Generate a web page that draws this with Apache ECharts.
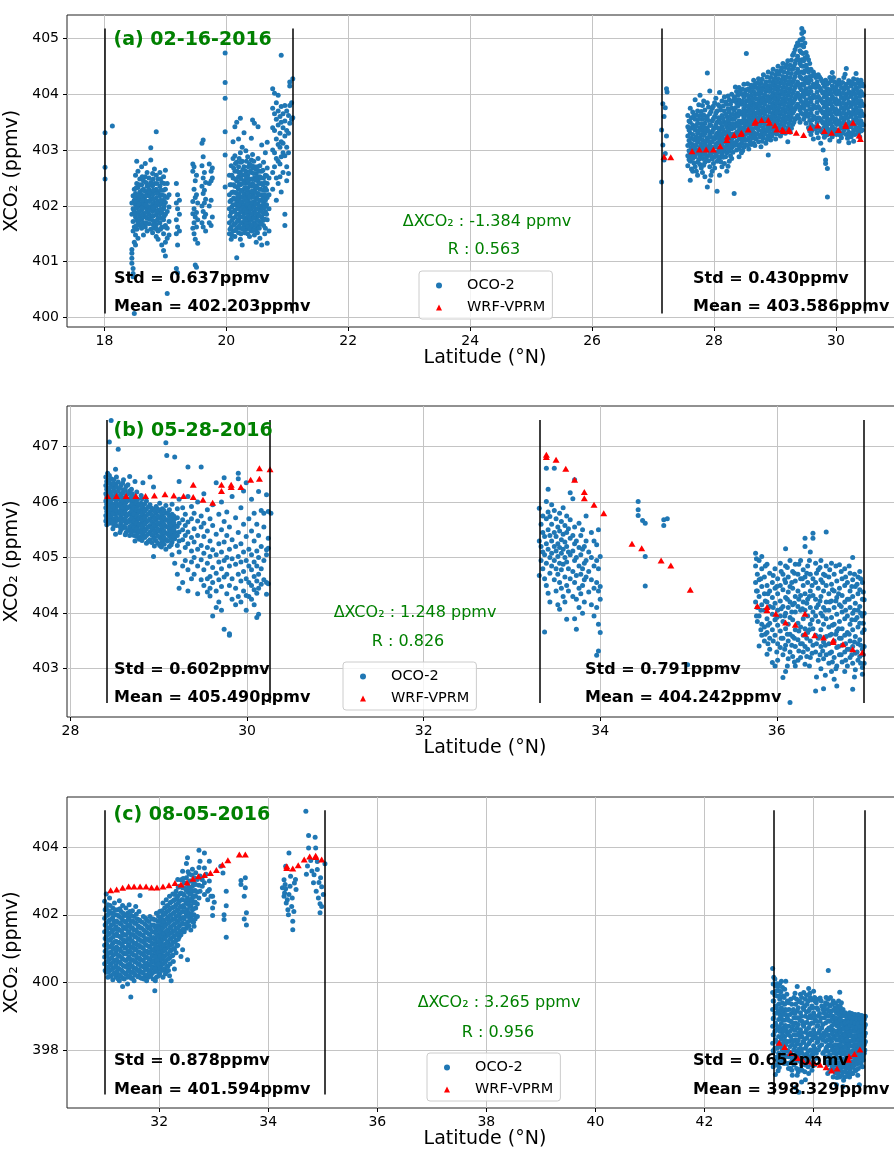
<!DOCTYPE html>
<html>
<head>
<meta charset="utf-8">
<title>XCO2 OCO-2 vs WRF-VPRM</title>
<script src="https://cdn.jsdelivr.net/npm/echarts@6/dist/echarts.min.js"></script>
<style>
  html, body { margin: 0; padding: 0; background: #fff; }
  #chart { width: 894px; height: 1154px; }
</style>
</head>
<body>
<div id="chart"></div>
<script>
"use strict";

// OCO-2 soundings, one column per latitude: [lat, xco2, xco2, ...]
const oco2A = [
  [18.01, 403.31, 402.69, 402.48], [18.13, 403.43],
  [18.45, 402.05, 401.85, 401.22, 401.15, 401.06, 400.97],
  [18.47, 402.18, 401.95, 401.72, 401.55, 400.88, 400.79, 400.73],
  [18.49, 402.30, 402.10, 401.90, 401.62, 401.35, 400.07],
  [18.51, 402.55, 402.22, 402.02, 401.80, 401.48, 401.30],
  [18.53, 402.80, 402.40, 402.15, 401.96, 401.75, 401.58],
  [18.55, 402.62, 402.33, 402.08, 401.88, 401.70, 401.42],
  [18.58, 402.48, 402.25, 402.12, 401.99, 401.82, 401.65],
  [18.61, 402.70, 402.38, 402.20, 402.02, 401.92, 401.76, 401.60],
  [18.64, 402.45, 402.30, 402.16, 402.05, 401.86, 401.70, 401.48],
  [18.67, 402.76, 402.52, 402.26, 402.10, 401.97, 401.80, 401.62],
  [18.70, 402.60, 402.35, 402.22, 402.08, 401.94, 401.78, 401.55],
  [18.73, 402.50, 402.30, 402.18, 401.99, 401.85, 401.68],
  [18.76, 403.04, 402.82, 402.42, 402.25, 402.12, 401.96, 401.82, 401.58],
  [18.79, 402.58, 402.36, 402.20, 402.03, 401.90, 401.74, 401.52],
  [18.82, 402.66, 402.40, 402.26, 402.06, 401.93, 401.72, 401.60],
  [18.85, 403.33, 402.55, 402.30, 402.14, 402.00, 401.84, 401.66, 401.45],
  [18.88, 402.48, 402.24, 402.08, 401.92, 401.78, 401.55, 401.40],
  [18.91, 402.60, 402.35, 402.18, 402.02, 401.86, 401.70],
  [18.94, 402.42, 402.20, 402.05, 401.88, 401.62, 401.30],
  [18.97, 402.52, 402.28, 402.10, 401.95, 401.75, 401.50, 401.20],
  [19.00, 402.64, 402.30, 402.06, 401.85, 401.65, 401.35, 401.10],
  [19.03, 402.40, 402.15, 401.90, 401.60, 401.42, 400.43],
  [19.06, 402.20, 401.98, 401.72, 401.48],
  [19.18, 402.40, 402.05, 401.75, 401.50, 400.88],
  [19.20, 402.20, 401.95, 401.62, 401.30, 400.80],
  [19.23, 402.10, 401.85, 401.55],
  [19.45, 402.75, 402.62, 402.08, 401.86, 401.60],
  [19.47, 402.70, 402.30, 401.95, 401.70, 401.50],
  [19.49, 402.45, 402.15, 401.80, 401.40, 400.94],
  [19.51, 402.55, 402.20, 401.88, 401.62, 400.90],
  [19.53, 402.05, 401.75, 401.33],
  [19.60, 403.12, 402.72, 402.35, 402.00, 401.70],
  [19.62, 403.18, 402.88, 402.50, 402.22, 401.90, 401.62],
  [19.64, 402.60, 402.28, 402.05, 401.80],
  [19.66, 402.42, 402.12, 401.85, 401.55],
  [19.72, 402.75, 402.40, 402.00, 401.70],
  [19.75, 402.62, 402.45, 402.10, 401.65],
  [19.77, 402.68, 402.50, 401.80],
  [19.98, 404.74, 404.21, 403.93, 403.33, 402.91, 402.34],
  [20.05, 402.55, 402.20, 401.95, 401.70, 401.50],
  [20.08, 402.72, 402.38, 402.10, 401.88, 401.62, 401.40],
  [20.11, 403.15, 402.85, 402.50, 402.25, 402.02, 401.78, 401.55],
  [20.14, 403.42, 402.90, 402.62, 402.35, 402.12, 401.92, 401.68, 401.45],
  [20.17, 403.50, 402.78, 402.45, 402.22, 402.05, 401.85, 401.60, 401.07],
  [20.20, 403.20, 402.70, 402.52, 402.30, 402.10, 401.96, 401.75, 401.52],
  [20.23, 403.57, 402.95, 402.60, 402.38, 402.16, 402.00, 401.80, 401.60, 401.40],
  [20.26, 403.05, 402.80, 402.55, 402.28, 402.05, 401.90, 401.70, 401.30],
  [20.29, 403.31, 402.70, 402.45, 402.22, 402.02, 401.86, 401.65],
  [20.32, 402.99, 402.62, 402.40, 402.18, 401.98, 401.78, 401.58],
  [20.35, 402.88, 402.55, 402.32, 402.12, 401.92, 401.72, 401.50],
  [20.38, 402.75, 402.48, 402.25, 402.06, 401.88, 401.68, 401.45],
  [20.41, 403.21, 402.82, 402.60, 402.35, 402.15, 401.95, 401.75, 401.55],
  [20.43, 403.54, 402.92, 402.68, 402.40, 402.20, 402.00, 401.80, 401.62],
  [20.46, 403.48, 402.70, 402.50, 402.28, 402.08, 401.90, 401.70, 401.48],
  [20.49, 402.58, 402.36, 402.15, 401.95, 401.78, 401.58, 401.35],
  [20.52, 403.42, 402.85, 402.45, 402.22, 402.04, 401.85, 401.65],
  [20.55, 402.72, 402.52, 402.30, 402.10, 401.92, 401.72, 401.42],
  [20.58, 403.09, 402.62, 402.40, 402.20, 402.00, 401.80, 401.30],
  [20.61, 402.78, 402.50, 402.28, 402.05, 401.86, 401.65],
  [20.64, 402.95, 402.55, 402.32, 402.10, 401.90, 401.60],
  [20.67, 403.14, 402.68, 402.40, 402.15, 401.75, 401.33],
  [20.70, 402.50, 402.20, 401.95, 401.55],
  [20.76, 404.10, 403.75, 403.40, 403.00, 402.60, 402.30],
  [20.79, 404.02, 403.65, 403.35, 402.95, 402.70],
  [20.82, 403.85, 403.55, 403.20, 402.85, 402.50, 402.10],
  [20.85, 403.98, 403.70, 403.45, 403.10, 402.80, 402.40],
  [20.88, 403.60, 403.30, 403.05, 402.75, 402.52],
  [20.90, 404.70, 403.78, 403.50, 403.15, 402.88, 402.25],
  [20.93, 403.65, 403.40, 403.12, 402.95, 402.60],
  [20.96, 403.80, 403.52, 403.25, 402.90, 401.85, 401.65],
  [20.99, 403.70, 403.35, 403.05, 402.70, 402.45],
  [21.02, 403.62, 403.30, 402.95, 402.58],
  [21.04, 404.22, 404.15, 403.80, 403.48],
  [21.07, 403.85, 403.55],
  [21.09, 404.28, 403.58],
  [27.14, 403.36, 402.43], [27.16, 403.83, 403.09], [27.18, 403.60, 402.82],
  [27.20, 403.76, 402.94], [27.22, 404.10, 403.25], [27.23, 404.04],
  [27.57, 403.62, 403.42, 403.25, 403.08, 402.90, 402.72],
  [27.61, 403.75, 403.50, 403.30, 403.12, 402.95, 402.80, 402.46],
  [27.65, 403.68, 403.45, 403.28, 403.10, 402.98, 402.85, 402.62],
  [27.69, 403.90, 403.55, 403.36, 403.18, 403.02, 402.88, 402.70],
  [27.73, 403.70, 403.48, 403.30, 403.15, 403.00, 402.78, 402.55],
  [27.77, 403.98, 403.62, 403.40, 403.22, 403.05, 402.90, 402.74],
  [27.81, 403.80, 403.55, 403.35, 403.18, 403.02, 402.85, 402.60],
  [27.85, 403.72, 403.48, 403.30, 403.12, 402.96, 402.78, 402.52],
  [27.89, 404.38, 403.85, 403.60, 403.40, 403.22, 403.06, 402.90, 402.34],
  [27.93, 404.06, 403.65, 403.45, 403.28, 403.10, 402.95, 402.70, 402.45],
  [27.97, 403.75, 403.52, 403.32, 403.15, 403.00, 402.84, 402.62],
  [28.01, 403.85, 403.60, 403.40, 403.20, 403.05, 402.88, 402.68],
  [28.05, 403.70, 403.50, 403.30, 403.12, 402.96, 402.80, 402.26],
  [28.09, 404.03, 403.78, 403.55, 403.35, 403.18, 403.02, 402.86, 402.55],
  [28.13, 403.88, 403.62, 403.42, 403.25, 403.08, 402.92, 402.70],
  [28.17, 403.95, 403.70, 403.50, 403.32, 403.15, 402.98, 402.76],
  [28.21, 403.82, 403.60, 403.42, 403.25, 403.10, 402.95, 402.62],
  [28.25, 403.90, 403.68, 403.48, 403.30, 403.14, 402.98, 402.80],
  [28.29, 404.00, 403.75, 403.55, 403.38, 403.20, 403.04, 402.85],
  [28.33, 403.95, 403.72, 403.55, 403.40, 403.24, 403.08, 402.22],
  [28.37, 404.05, 403.85, 403.65, 403.48, 403.32, 403.16, 403.00],
  [28.41, 404.12, 403.90, 403.70, 403.52, 403.36, 403.20, 403.02, 402.88],
  [28.45, 404.00, 403.82, 403.64, 403.48, 403.30, 403.12, 402.95],
  [28.49, 404.18, 403.95, 403.75, 403.58, 403.40, 403.22, 403.05],
  [28.53, 404.73, 404.08, 403.88, 403.70, 403.52, 403.36, 403.18],
  [28.57, 404.10, 403.92, 403.74, 403.56, 403.40, 403.22, 403.02],
  [28.61, 404.16, 403.98, 403.80, 403.62, 403.46, 403.28, 403.10],
  [28.65, 404.25, 404.05, 403.85, 403.68, 403.50, 403.32, 403.12],
  [28.69, 404.12, 403.92, 403.76, 403.58, 403.40, 403.20],
  [28.73, 404.28, 404.08, 403.90, 403.72, 403.55, 403.36, 403.15],
  [28.77, 404.20, 404.02, 403.84, 403.66, 403.48, 403.28, 403.06],
  [28.81, 404.35, 404.12, 403.94, 403.76, 403.58, 403.40, 403.22],
  [28.85, 404.22, 404.05, 403.88, 403.70, 403.52, 403.34, 403.12],
  [28.89, 404.40, 404.15, 403.96, 403.78, 403.60, 403.42, 403.25, 402.91],
  [28.93, 404.30, 404.10, 403.92, 403.75, 403.56, 403.38, 403.18],
  [28.97, 404.45, 404.22, 404.02, 403.84, 403.66, 403.48, 403.30],
  [29.01, 404.35, 404.15, 403.96, 403.78, 403.60, 403.42, 403.20],
  [29.05, 404.50, 404.28, 404.08, 403.90, 403.72, 403.54, 403.36],
  [29.09, 404.42, 404.20, 404.00, 403.82, 403.64, 403.46, 403.25],
  [29.13, 404.55, 404.32, 404.12, 403.92, 403.74, 403.56, 403.38],
  [29.17, 404.48, 404.25, 404.05, 403.86, 403.68, 403.50, 403.30],
  [29.21, 404.60, 404.38, 404.18, 403.98, 403.78, 403.60, 403.40, 403.15],
  [29.25, 404.52, 404.30, 404.10, 403.90, 403.72, 403.54, 403.32],
  [29.29, 404.70, 404.45, 404.22, 404.02, 403.84, 403.66, 403.46],
  [29.33, 404.80, 404.55, 404.32, 404.12, 403.92, 403.74, 403.55],
  [29.37, 404.92, 404.68, 404.45, 404.22, 404.02, 403.82, 403.62],
  [29.41, 404.97, 404.78, 404.55, 404.32, 404.12, 403.92, 403.72, 403.50],
  [29.44, 405.18, 405.09, 404.88, 404.62, 404.40, 404.18, 403.98, 403.78],
  [29.47, 405.12, 404.85, 404.60, 404.38, 404.16, 403.96, 403.75, 403.55],
  [29.51, 404.75, 404.52, 404.30, 404.10, 403.90, 403.70, 403.48],
  [29.55, 404.62, 404.40, 404.20, 404.00, 403.80, 403.60, 403.40],
  [29.59, 404.45, 404.25, 404.05, 403.86, 403.66, 403.46, 403.28],
  [29.63, 404.40, 404.18, 403.98, 403.80, 403.60, 403.42, 403.20],
  [29.67, 404.30, 404.12, 403.94, 403.76, 403.56, 403.38],
  [29.71, 404.35, 404.15, 403.96, 403.78, 403.58, 403.40, 403.22],
  [29.75, 404.28, 404.08, 403.90, 403.72, 403.54, 403.35, 403.12],
  [29.79, 404.20, 404.02, 403.84, 403.66, 403.48, 403.30, 403.00],
  [29.83, 404.25, 404.05, 403.86, 403.68, 403.50, 403.32, 402.82, 402.76],
  [29.86, 404.10, 403.92, 403.74, 403.56, 403.38, 402.67, 402.16],
  [29.90, 404.30, 404.08, 403.90, 403.72, 403.54, 403.36, 403.18],
  [29.94, 404.39, 404.15, 403.96, 403.78, 403.60, 403.42, 403.24],
  [29.98, 404.22, 404.04, 403.86, 403.68, 403.50, 403.32],
  [30.01, 404.15, 404.00, 403.82, 403.64, 403.46, 403.28],
  [30.05, 404.25, 404.06, 403.88, 403.70, 403.52, 403.34, 403.16],
  [30.09, 404.12, 403.94, 403.76, 403.58, 403.40, 403.22],
  [30.13, 404.30, 404.08, 403.90, 403.72, 403.54, 403.36],
  [30.17, 404.46, 404.18, 404.00, 403.82, 403.64, 403.46, 403.28],
  [30.21, 404.24, 404.05, 403.86, 403.68, 403.50, 403.32, 403.13],
  [30.25, 404.15, 403.96, 403.78, 403.60, 403.42, 403.24],
  [30.29, 404.28, 404.08, 403.90, 403.72, 403.54, 403.36, 403.16],
  [30.33, 404.37, 404.12, 403.94, 403.76, 403.58, 403.40],
  [30.37, 404.20, 404.02, 403.84, 403.66, 403.48, 403.30],
  [30.41, 404.25, 404.05, 403.88, 403.70, 403.52, 403.34],
  [30.45, 404.15, 403.98, 403.80, 403.62, 403.45]
];

// extra soundings (a)
const oco2AFill = [
  [18.52, 402.32, 402.08, 401.86, 401.64], [18.57, 402.38, 402.18, 402.04, 401.90, 401.74],
  [18.62, 402.52, 402.28, 402.10, 401.96, 401.84, 401.68], [18.68, 402.42, 402.18, 402.02, 401.88, 401.70],
  [18.74, 402.38, 402.24, 402.08, 401.92, 401.76], [18.80, 402.48, 402.28, 402.12, 401.96, 401.82, 401.66],
  [18.86, 402.40, 402.22, 402.06, 401.90, 401.74, 401.58], [18.92, 402.48, 402.28, 402.10, 401.94, 401.78, 401.58],
  [18.98, 402.40, 402.18, 402.00, 401.82, 401.62],
  [20.06, 402.38, 402.08, 401.82, 401.58], [20.09, 402.55, 402.24, 401.98, 401.74, 401.48],
  [20.12, 402.68, 402.38, 402.14, 401.90, 401.66], [20.15, 402.76, 402.48, 402.24, 402.02, 401.80, 401.56],
  [20.18, 402.62, 402.34, 402.14, 401.95, 401.72], [20.21, 402.85, 402.60, 402.40, 402.20, 402.02, 401.86, 401.64],
  [20.24, 402.78, 402.48, 402.26, 402.08, 401.90, 401.70, 401.50], [20.27, 402.65, 402.40, 402.16, 401.96, 401.80, 401.58],
  [20.30, 402.56, 402.32, 402.12, 401.92, 401.74, 401.52], [20.33, 402.80, 402.50, 402.28, 402.08, 401.88, 401.68],
  [20.36, 402.70, 402.44, 402.22, 402.02, 401.82, 401.62], [20.39, 402.62, 402.38, 402.16, 401.98, 401.78, 401.58],
  [20.42, 402.72, 402.48, 402.26, 402.06, 401.86, 401.66], [20.45, 402.80, 402.58, 402.36, 402.16, 401.98, 401.78, 401.56],
  [20.48, 402.66, 402.46, 402.24, 402.04, 401.86, 401.66], [20.51, 402.70, 402.52, 402.32, 402.12, 401.94, 401.74, 401.52],
  [20.54, 402.62, 402.40, 402.20, 402.00, 401.82, 401.60], [20.57, 402.50, 402.30, 402.10, 401.90, 401.68],
  [20.60, 402.64, 402.38, 402.16, 401.96, 401.74], [20.63, 402.42, 402.20, 401.98, 401.76, 401.50],
  [20.66, 402.54, 402.28, 402.02, 401.85],
  [27.59, 403.52, 403.36, 403.17, 402.99, 402.83], [27.63, 403.58, 403.39, 403.21, 403.04, 402.88, 402.66],
  [27.67, 403.62, 403.40, 403.19, 403.06, 402.92, 402.77], [27.71, 403.63, 403.43, 403.24, 403.09, 402.94, 402.62],
  [27.75, 403.81, 403.55, 403.35, 403.19, 402.97, 402.83], [27.79, 403.69, 403.47, 403.28, 403.11, 402.95, 402.68],
  [27.83, 403.88, 403.63, 403.42, 403.26, 403.08, 402.92, 402.73], [27.87, 403.56, 403.37, 403.17, 403.02, 402.86],
  [27.91, 403.77, 403.53, 403.34, 403.16, 403.01, 402.81], [27.95, 403.69, 403.44, 403.23, 403.06, 402.90, 402.55],
  [27.99, 403.79, 403.56, 403.37, 403.22, 402.97, 402.76], [28.03, 403.93, 403.66, 403.45, 403.26, 403.10, 402.93],
  [28.07, 403.81, 403.58, 403.39, 403.23, 403.04, 402.88], [28.11, 403.72, 403.48, 403.29, 403.13, 402.97, 402.79],
  [28.15, 403.79, 403.56, 403.37, 403.20, 403.03, 402.87], [28.19, 403.86, 403.64, 403.46, 403.29, 403.05, 402.88],
  [28.23, 403.97, 403.74, 403.54, 403.36, 403.19, 403.03, 402.71], [28.27, 403.82, 403.61, 403.42, 403.24, 403.07, 402.90],
  [28.31, 403.88, 403.64, 403.47, 403.29, 403.13, 402.96], [28.35, 404.13, 403.91, 403.76, 403.59, 403.43, 403.27, 403.11],
  [28.39, 403.98, 403.79, 403.61, 403.44, 403.28, 403.09], [28.43, 404.06, 403.86, 403.67, 403.41, 403.24, 403.07],
  [28.47, 404.09, 403.88, 403.69, 403.52, 403.35, 403.17, 402.99], [28.51, 404.02, 403.81, 403.63, 403.46, 403.28, 403.10],
  [28.55, 404.19, 403.98, 403.79, 403.62, 403.45, 403.30, 403.08], [28.59, 404.06, 403.86, 403.68, 403.51, 403.33, 403.15],
  [28.63, 404.12, 403.92, 403.73, 403.56, 403.38, 403.21], [28.67, 404.18, 403.99, 403.80, 403.63, 403.46, 403.26, 403.08],
  [28.71, 404.20, 404.01, 403.83, 403.66, 403.48, 403.29], [28.75, 404.14, 403.95, 403.78, 403.61, 403.43, 403.24],
  [28.79, 404.27, 404.08, 403.89, 403.71, 403.53, 403.34, 403.16], [28.83, 404.16, 403.99, 403.82, 403.64, 403.46, 403.29],
  [28.87, 404.31, 404.09, 403.91, 403.73, 403.56, 403.37, 403.19], [28.91, 404.23, 404.05, 403.86, 403.68, 403.50, 403.32],
  [28.95, 404.37, 404.16, 403.97, 403.79, 403.61, 403.43, 403.25], [28.99, 404.28, 404.09, 403.91, 403.72, 403.54, 403.36],
  [29.03, 404.41, 404.21, 404.02, 403.85, 403.67, 403.49, 403.29], [29.07, 404.36, 404.14, 403.95, 403.77, 403.59, 403.41],
  [29.11, 404.47, 404.26, 404.06, 403.87, 403.69, 403.51, 403.31], [29.15, 404.40, 404.19, 403.99, 403.81, 403.62, 403.44],
  [29.19, 404.53, 404.31, 404.11, 403.92, 403.73, 403.55, 403.35], [29.23, 404.45, 404.23, 404.04, 403.84, 403.66, 403.47],
  [29.27, 404.61, 404.37, 404.16, 403.96, 403.77, 403.59, 403.39], [29.31, 404.74, 404.50, 404.27, 404.07, 403.88, 403.70, 403.50],
  [29.35, 404.86, 404.61, 404.38, 404.17, 403.97, 403.78, 403.58], [29.39, 404.88, 404.62, 404.39, 404.17, 403.96, 403.77, 403.57],
  [29.43, 404.97, 404.75, 404.51, 404.29, 404.08, 403.87, 403.66], [29.46, 405.00, 404.73, 404.50, 404.27, 404.06, 403.85, 403.64],
  [29.49, 404.92, 404.65, 404.42, 404.20, 404.00, 403.80, 403.60], [29.53, 404.68, 404.46, 404.25, 404.05, 403.85, 403.65],
  [29.57, 404.55, 404.32, 404.12, 403.93, 403.73, 403.53, 403.34], [29.61, 404.33, 404.13, 403.93, 403.73, 403.54, 403.35],
  [29.65, 404.35, 404.16, 403.96, 403.78, 403.59, 403.41], [29.69, 404.22, 404.04, 403.86, 403.67, 403.49, 403.31],
  [29.73, 404.31, 404.12, 403.93, 403.75, 403.57, 403.39], [29.77, 404.24, 404.05, 403.87, 403.69, 403.51, 403.33],
  [29.81, 404.14, 403.95, 403.77, 403.59, 403.41, 403.23], [29.85, 404.18, 403.99, 403.81, 403.63, 403.45, 403.27],
  [29.88, 404.20, 404.01, 403.83, 403.65, 403.47, 403.29], [29.92, 404.24, 404.02, 403.84, 403.66, 403.48, 403.30],
  [29.96, 404.30, 404.10, 403.92, 403.74, 403.56, 403.38], [30.00, 404.09, 403.91, 403.73, 403.55, 403.37],
  [30.03, 404.20, 404.03, 403.85, 403.67, 403.49, 403.31], [30.07, 404.18, 404.00, 403.82, 403.64, 403.46, 403.27],
  [30.11, 404.21, 404.02, 403.84, 403.66, 403.48, 403.30], [30.15, 404.36, 404.13, 403.95, 403.77, 403.59, 403.41],
  [30.19, 404.11, 403.93, 403.75, 403.57, 403.39, 403.21], [30.23, 404.20, 404.01, 403.83, 403.65, 403.47, 403.29],
  [30.27, 404.22, 404.03, 403.85, 403.67, 403.49, 403.30], [30.31, 404.18, 404.00, 403.82, 403.64, 403.46, 403.28],
  [30.35, 404.26, 404.07, 403.89, 403.71, 403.53, 403.35], [30.39, 404.14, 403.96, 403.78, 403.60, 403.42, 403.24],
  [30.43, 404.19, 404.01, 403.83, 403.65, 403.47, 403.36]
];

const oco2B = [
  [28.40, 406.45, 406.30, 406.15, 406.02, 405.90, 405.76, 405.66],
  [28.42, 406.52, 406.38, 406.22, 406.08, 405.95, 405.82, 405.70],
  [28.44, 407.08, 406.48, 406.35, 406.20, 406.05, 405.92, 405.80, 405.62],
  [28.46, 407.47, 406.42, 406.28, 406.12, 405.98, 405.86, 405.72],
  [28.49, 406.40, 406.25, 406.10, 405.96, 405.84, 405.70, 405.58],
  [28.51, 406.59, 406.32, 406.18, 406.04, 405.90, 405.78, 405.65, 405.42],
  [28.54, 406.95, 406.36, 406.20, 406.06, 405.94, 405.80, 405.68],
  [28.57, 406.30, 406.14, 406.00, 405.88, 405.76, 405.62, 405.50],
  [28.60, 406.40, 406.22, 406.08, 405.96, 405.84, 405.70, 405.56],
  [28.63, 406.28, 406.12, 406.00, 405.88, 405.75, 405.62, 405.45],
  [28.67, 406.46, 406.20, 406.05, 405.92, 405.80, 405.68, 405.55, 405.40],
  [28.70, 406.15, 406.00, 405.88, 405.76, 405.64, 405.50],
  [28.73, 406.37, 406.10, 405.96, 405.84, 405.72, 405.60, 405.48, 405.30],
  [28.76, 406.05, 405.92, 405.80, 405.68, 405.56, 405.44],
  [28.80, 406.12, 405.98, 405.86, 405.74, 405.62, 405.50, 405.38],
  [28.82, 406.35, 405.90, 405.78, 405.66, 405.54, 405.42],
  [28.86, 406.02, 405.88, 405.76, 405.64, 405.52, 405.40, 405.26],
  [28.90, 406.45, 405.95, 405.82, 405.70, 405.58, 405.46, 405.32],
  [28.94, 406.27, 405.86, 405.74, 405.62, 405.50, 405.38, 405.02],
  [28.97, 405.92, 405.80, 405.68, 405.56, 405.44, 405.30],
  [29.01, 405.98, 405.84, 405.72, 405.60, 405.48, 405.36, 405.22],
  [29.04, 405.88, 405.76, 405.64, 405.52, 405.40, 405.28],
  [29.08, 407.07, 405.94, 405.80, 405.68, 405.56, 405.44, 405.32, 405.15],
  [29.09, 406.84],
  [29.12, 405.86, 405.74, 405.62, 405.50, 405.38, 405.20],
  [29.15, 405.96, 405.78, 405.66, 405.54, 405.42, 405.28, 405.05],
  [29.18, 406.81, 405.70, 405.58, 405.46, 405.34, 404.90],
  [29.21, 405.88, 405.72, 405.56, 405.40, 405.22, 404.70],
  [29.23, 406.37, 406.05, 405.62, 405.46, 405.30, 405.10, 404.45],
  [29.27, 405.90, 405.68, 405.50, 405.32, 404.85, 404.55],
  [29.30, 405.78, 405.58, 405.40, 405.18, 404.95],
  [29.33, 406.63, 406.10, 405.64, 405.46, 405.25, 404.78, 404.40],
  [29.37, 405.92, 405.70, 405.36, 405.12, 404.92, 404.62],
  [29.40, 405.80, 405.52, 405.28, 405.00, 404.70],
  [29.44, 406.00, 405.66, 405.40, 405.15, 404.85, 404.35],
  [29.48, 406.63, 405.75, 405.55, 405.22, 404.96, 404.60],
  [29.51, 406.15, 405.62, 405.38, 405.08, 404.78, 404.50],
  [29.55, 405.86, 405.48, 405.18, 404.90, 404.62, 404.38],
  [29.58, 405.70, 405.30, 405.02, 404.66, 404.45, 404.31],
  [29.61, 405.95, 405.58, 405.14, 404.82, 404.55, 403.95],
  [29.65, 406.35, 405.42, 405.05, 404.72, 404.40, 404.10],
  [29.68, 405.78, 405.25, 404.92, 404.60, 404.20],
  [29.71, 406.00, 405.50, 405.10, 404.80, 404.48, 404.05],
  [29.74, 406.44, 405.65, 405.28, 404.95, 404.65, 403.71],
  [29.77, 405.82, 405.40, 405.00, 404.70, 404.35],
  [29.80, 405.55, 405.15, 404.85, 404.50, 403.63, 403.60],
  [29.83, 406.10, 405.32, 404.98, 404.62, 404.25],
  [29.87, 405.72, 405.20, 404.88, 404.45, 404.15],
  [29.90, 406.52, 406.42, 405.45, 405.02, 404.70, 404.30],
  [29.93, 405.90, 405.25, 404.92, 404.58, 404.20],
  [29.96, 406.20, 405.60, 405.10, 404.75, 404.40],
  [29.99, 406.35, 405.38, 404.95, 404.62, 404.32, 404.05],
  [30.02, 405.70, 405.15, 404.85, 404.55, 404.30],
  [30.05, 406.05, 405.48, 405.05, 404.78, 404.50, 404.25],
  [30.08, 405.80, 405.30, 404.92, 404.66, 404.42, 404.15],
  [30.11, 405.60, 405.12, 404.85, 404.58, 404.36, 403.92],
  [30.13, 406.19, 405.40, 405.00, 404.70, 404.45, 403.98],
  [30.16, 405.85, 405.20, 404.80, 404.52],
  [30.19, 405.80, 405.55, 404.95, 404.60],
  [30.22, 406.13, 405.14, 405.05, 404.55, 404.34],
  [30.24, 405.83, 405.35, 405.17, 404.53],
  [30.27, 405.80],
  [33.31, 405.89, 405.30, 404.68], [33.33, 405.60, 405.20, 404.95],
  [33.35, 405.75, 405.45, 405.10, 404.80], [33.37, 405.38, 405.05, 404.62, 403.66],
  [33.39, 406.61, 406.01, 405.70, 405.25, 404.90, 404.50],
  [33.41, 406.23, 405.82, 405.50, 405.15, 404.36],
  [33.43, 405.74, 405.40, 405.00, 404.72, 404.20],
  [33.45, 405.95, 405.60, 405.30, 405.08, 404.85],
  [33.48, 406.61, 405.85, 405.45, 405.20, 404.95, 404.60],
  [33.50, 405.70, 405.38, 405.12, 404.80, 404.40],
  [33.52, 405.55, 405.25, 405.02, 404.70, 404.15],
  [33.54, 405.80, 405.48, 405.18, 404.90, 404.55, 404.07],
  [33.56, 405.65, 405.32, 405.08, 404.78, 404.45],
  [33.58, 405.90, 405.42, 405.15, 404.88, 404.30],
  [33.60, 405.58, 405.28, 405.00, 404.65, 404.20],
  [33.62, 405.75, 405.45, 405.20, 404.92, 404.50, 403.89],
  [33.64, 405.52, 405.10, 404.80, 404.40],
  [33.66, 406.17, 405.68, 405.35, 405.05, 404.62],
  [33.69, 406.06, 405.40, 405.12, 404.75, 404.30],
  [33.71, 406.40, 405.55, 405.25, 404.95, 404.55, 403.90],
  [33.73, 405.30, 405.00, 404.68, 404.25, 403.71],
  [33.76, 405.62, 405.18, 404.85, 404.45, 404.10],
  [33.78, 405.40, 405.05, 404.70, 404.35],
  [33.80, 405.50, 405.15, 404.80, 404.50, 404.00],
  [33.82, 405.20, 404.90, 404.60, 404.20],
  [33.84, 405.75, 405.30, 404.95, 404.65],
  [33.87, 405.10, 404.75, 404.38],
  [33.90, 405.45, 405.00, 404.60, 404.15],
  [33.93, 405.30, 404.85, 404.45, 403.95],
  [33.96, 405.23, 404.95, 404.55, 404.10, 403.24],
  [33.98, 405.50, 404.80, 404.40, 403.80, 403.32],
  [34.00, 405.02, 404.48, 404.25, 403.65],
  [34.43, 406.01, 405.86, 405.76], [34.48, 405.67], [34.51, 405.62, 405.02, 404.49],
  [34.72, 405.58, 405.68], [34.76, 405.70], [34.99, 403.07],
  [35.76, 405.08, 404.85, 404.55, 404.20],
  [35.78, 404.70, 404.40, 404.10, 403.85],
  [35.80, 404.95, 404.60, 404.30, 403.95, 403.41],
  [35.83, 405.02, 404.80, 404.48, 404.15, 403.80, 403.60],
  [35.86, 404.65, 404.35, 404.05, 403.75, 403.50],
  [35.89, 404.88, 404.50, 404.20, 403.90, 403.65, 403.26],
  [35.92, 404.72, 404.40, 404.12, 403.82, 403.55, 403.35],
  [35.95, 404.55, 404.28, 403.98, 403.70, 403.11],
  [35.98, 404.80, 404.45, 404.18, 403.88, 403.60, 403.05],
  [36.01, 404.62, 404.35, 404.05, 403.78, 403.45, 403.15],
  [36.04, 404.90, 404.50, 404.22, 403.95, 403.68, 403.38],
  [36.07, 404.70, 404.42, 404.12, 403.85, 403.55, 403.25, 402.84],
  [36.10, 405.16, 404.85, 404.55, 404.28, 404.00, 403.72, 403.42, 402.95],
  [36.13, 404.65, 404.38, 404.10, 403.80, 403.50, 403.18],
  [36.15, 404.95, 404.48, 404.20, 403.92, 403.62, 403.30, 402.39],
  [36.18, 404.75, 404.45, 404.15, 403.88, 403.58, 403.22],
  [36.21, 404.88, 404.58, 404.30, 404.02, 403.70, 403.40, 403.05],
  [36.24, 404.70, 404.40, 404.12, 403.82, 403.52, 403.15],
  [36.27, 404.95, 404.62, 404.32, 404.05, 403.75, 403.45, 403.20],
  [36.30, 404.78, 404.50, 404.20, 403.90, 403.60, 403.30],
  [36.32, 405.35, 405.20, 404.65, 404.35, 404.05, 403.72, 403.40, 403.08],
  [36.35, 404.85, 404.55, 404.25, 403.95, 403.65, 403.35],
  [36.38, 405.10, 404.70, 404.40, 404.10, 403.80, 403.50, 403.20],
  [36.41, 405.44, 405.35, 404.62, 404.32, 404.02, 403.72, 403.42],
  [36.44, 404.90, 404.55, 404.25, 403.95, 403.60, 403.30, 402.60],
  [36.47, 404.78, 404.45, 404.15, 403.85, 403.55, 403.15],
  [36.50, 404.95, 404.60, 404.30, 404.00, 403.70, 403.40, 403.00],
  [36.53, 404.70, 404.40, 404.10, 403.80, 403.48, 403.18, 402.64],
  [36.56, 405.46, 404.85, 404.50, 404.20, 403.90, 403.58, 403.25],
  [36.59, 404.65, 404.35, 404.05, 403.75, 403.45, 403.10],
  [36.62, 404.90, 404.52, 404.22, 403.92, 403.62, 403.30, 402.95],
  [36.65, 404.70, 404.40, 404.10, 403.80, 403.50, 403.20, 402.81],
  [36.68, 404.58, 404.28, 403.98, 403.68, 403.38, 403.05, 402.69],
  [36.71, 404.87, 404.45, 404.15, 403.85, 403.55, 403.25],
  [36.74, 404.62, 404.32, 404.02, 403.72, 403.42, 403.12],
  [36.77, 404.80, 404.50, 404.20, 403.90, 403.60, 403.30, 402.95],
  [36.80, 404.55, 404.25, 403.95, 403.65, 403.35, 403.05],
  [36.83, 404.72, 404.40, 404.10, 403.80, 403.50, 403.20],
  [36.86, 405.00, 404.60, 404.30, 404.00, 403.70, 403.40, 403.10, 402.63],
  [36.89, 404.48, 404.18, 403.88, 403.58, 403.28, 402.98],
  [36.92, 404.65, 404.35, 404.05, 403.75, 403.45, 403.15],
  [36.94, 404.75, 404.42, 404.12, 403.82, 403.52, 403.22],
  [36.97, 404.55, 404.25, 403.95, 403.65, 403.35, 403.02, 402.90],
  [36.99, 404.24, 404.00, 403.70, 403.40, 403.10]
];

// extra soundings (b)
const oco2BFill = [
  [28.41, 406.37, 406.23, 406.09, 405.96, 405.83, 405.71, 405.59], [28.45, 406.41, 406.27, 406.14, 406.01, 405.88, 405.75, 405.66],
  [28.48, 406.33, 406.19, 406.06, 405.92, 405.79, 405.63, 405.52], [28.52, 406.45, 406.27, 406.13, 405.99, 405.85, 405.72, 405.58],
  [28.56, 406.25, 406.09, 405.95, 405.83, 405.70, 405.56, 405.45], [28.59, 406.34, 406.17, 406.03, 405.91, 405.79, 405.66, 405.53],
  [28.62, 406.21, 406.06, 405.94, 405.81, 405.68, 405.54, 405.41], [28.65, 406.31, 406.15, 406.03, 405.90, 405.77, 405.64, 405.49],
  [28.69, 406.23, 406.09, 405.95, 405.83, 405.71, 405.58, 405.46], [28.72, 406.04, 405.90, 405.78, 405.66, 405.54, 405.40],
  [28.75, 406.18, 405.99, 405.86, 405.74, 405.62, 405.51, 405.38], [28.78, 405.96, 405.83, 405.71, 405.59, 405.47, 405.33],
  [28.81, 406.06, 405.93, 405.81, 405.69, 405.57, 405.45, 405.31], [28.84, 405.97, 405.84, 405.72, 405.60, 405.48, 405.36],
  [28.88, 405.91, 405.79, 405.67, 405.55, 405.43, 405.29], [28.92, 405.89, 405.77, 405.65, 405.53, 405.41, 405.27],
  [28.95, 405.84, 405.71, 405.59, 405.47, 405.34, 405.21], [28.99, 405.87, 405.75, 405.63, 405.51, 405.39, 405.26],
  [29.03, 405.81, 405.69, 405.57, 405.45, 405.33, 405.19], [29.06, 405.85, 405.72, 405.60, 405.48, 405.36, 405.24],
  [29.10, 405.80, 405.67, 405.55, 405.43, 405.30], [29.14, 405.71, 405.59, 405.47, 405.35, 405.23],
  [29.17, 405.75, 405.63, 405.51, 405.39],
  [35.77, 404.98, 404.40, 403.95], [35.82, 404.62, 404.05, 403.70], [35.87, 404.85, 404.22, 403.62],
  [35.90, 404.35, 403.78, 403.45], [35.96, 404.68, 404.10, 403.50], [36.00, 404.48, 403.92, 403.30],
  [36.05, 404.75, 404.08, 403.55], [36.09, 404.60, 403.95, 403.35], [36.12, 404.82, 404.25, 403.62, 403.05],
  [36.17, 404.55, 404.02, 403.42], [36.20, 404.72, 404.18, 403.55, 403.12], [36.25, 404.88, 404.25, 403.68, 403.32],
  [36.29, 404.62, 404.08, 403.45], [36.34, 404.72, 404.18, 403.55, 403.22], [36.37, 404.95, 404.30, 403.70, 403.05],
  [36.40, 404.50, 403.88, 403.28], [36.45, 404.72, 404.10, 403.45, 402.85], [36.49, 404.82, 404.22, 403.58, 403.25],
  [36.52, 404.55, 403.95, 403.32], [36.55, 404.68, 404.05, 403.42, 402.88], [36.60, 404.78, 404.20, 403.60, 403.28],
  [36.63, 404.42, 403.78, 403.12], [36.67, 404.85, 404.22, 403.62, 403.00], [36.70, 404.35, 403.72, 403.40],
  [36.73, 404.75, 404.12, 403.55, 403.25], [36.78, 404.65, 404.05, 403.45, 403.15], [36.82, 404.85, 404.25, 403.62, 403.35],
  [36.85, 404.48, 403.88, 403.25], [36.88, 404.70, 404.05, 403.48, 402.85], [36.91, 404.52, 403.92, 403.30],
  [36.95, 404.62, 404.00, 403.42, 403.10], [36.98, 404.38, 403.82, 403.25]
];

const oco2C = [
  [31.00, 402.40, 401.90, 401.50, 401.10, 400.75, 400.55],
  [31.03, 402.62, 402.20, 401.75, 401.35, 400.95, 400.60, 400.30],
  [31.06, 402.30, 402.00, 401.62, 401.25, 400.85, 400.45, 400.15],
  [31.09, 402.50, 402.10, 401.85, 401.45, 401.05, 400.70, 400.35],
  [31.12, 402.05, 401.70, 401.30, 400.90, 400.55, 400.20],
  [31.15, 402.20, 401.92, 401.55, 401.15, 400.80, 400.42, 400.08],
  [31.18, 402.35, 401.80, 401.40, 401.00, 400.65, 400.28],
  [31.21, 402.00, 401.65, 401.22, 400.88, 400.50, 400.15],
  [31.24, 402.15, 401.78, 401.38, 400.98, 400.60, 400.25],
  [31.27, 402.42, 401.95, 401.55, 401.18, 400.78, 400.40, 400.05],
  [31.30, 402.10, 401.72, 401.32, 400.92, 400.55, 400.18],
  [31.33, 402.28, 401.85, 401.45, 401.08, 400.70, 400.32, 399.88],
  [31.36, 401.98, 401.60, 401.20, 400.85, 400.48, 400.10],
  [31.39, 402.20, 401.78, 401.40, 401.02, 400.65, 400.25],
  [31.42, 402.05, 401.68, 401.28, 400.90, 400.52, 400.15, 399.95],
  [31.45, 402.30, 401.90, 401.50, 401.12, 400.75, 400.38],
  [31.48, 401.80, 401.42, 401.05, 400.68, 400.30, 399.57],
  [31.51, 402.12, 401.62, 401.22, 400.85, 400.48, 400.12],
  [31.54, 401.95, 401.55, 401.15, 400.80, 400.42, 400.05],
  [31.57, 402.25, 401.75, 401.35, 400.98, 400.60, 400.22],
  [31.60, 401.88, 401.48, 401.10, 400.72, 400.35],
  [31.63, 402.10, 401.65, 401.28, 400.90, 400.55, 400.18],
  [31.65, 402.57, 401.82, 401.42, 401.05, 400.68, 400.30],
  [31.68, 401.60, 401.22, 400.85, 400.48, 400.12],
  [31.71, 401.95, 401.38, 401.00, 400.65, 400.28],
  [31.74, 401.72, 401.30, 400.92, 400.55, 400.20],
  [31.77, 401.85, 401.48, 401.10, 400.75, 400.40, 400.05],
  [31.80, 401.62, 401.25, 400.88, 400.50, 400.15],
  [31.83, 401.95, 401.42, 401.05, 400.70, 400.35],
  [31.86, 401.70, 401.32, 400.95, 400.60, 400.25],
  [31.89, 401.88, 401.50, 401.15, 400.80, 400.45, 400.10],
  [31.92, 401.65, 401.28, 400.92, 400.58, 399.75],
  [31.95, 402.05, 401.55, 401.18, 400.82, 400.48, 400.15],
  [31.98, 401.80, 401.42, 401.05, 400.72, 400.38],
  [32.01, 402.10, 401.68, 401.30, 400.95, 400.60, 400.25],
  [32.04, 401.92, 401.55, 401.20, 400.85, 400.50],
  [32.07, 402.35, 402.00, 401.62, 401.28, 400.92, 400.55, 400.15],
  [32.10, 402.20, 401.85, 401.48, 401.12, 400.78, 400.40],
  [32.13, 402.45, 402.08, 401.72, 401.38, 401.02, 400.65, 400.30],
  [32.16, 402.28, 401.92, 401.55, 401.20, 400.85, 400.48],
  [32.19, 402.55, 402.15, 401.80, 401.45, 401.10, 400.72, 400.20],
  [32.22, 402.38, 402.00, 401.65, 401.30, 400.95, 400.05],
  [32.25, 402.62, 402.22, 401.88, 401.52, 401.18, 400.80],
  [32.28, 402.45, 402.08, 401.72, 401.38, 400.98, 400.40],
  [32.31, 402.70, 402.30, 401.95, 401.60, 401.25, 400.88],
  [32.34, 403.05, 402.55, 402.15, 401.80, 401.45, 401.10],
  [32.37, 402.85, 402.40, 402.02, 401.68, 401.35],
  [32.40, 403.04, 402.65, 402.25, 401.90, 401.41, 400.77],
  [32.43, 403.29, 402.80, 402.45, 402.10, 401.75, 400.97],
  [32.46, 402.95, 402.58, 402.22, 401.88, 401.50],
  [32.50, 403.52, 403.10, 402.72, 402.35, 402.00, 401.60],
  [32.52, 403.69, 402.90, 402.50, 402.15, 401.78, 400.67],
  [32.55, 403.20, 402.80, 402.42, 402.05, 401.68],
  [32.58, 403.00, 402.62, 402.28, 401.92, 401.55],
  [32.61, 403.35, 402.85, 402.50, 402.15, 401.80],
  [32.64, 403.10, 402.70, 402.35, 402.00, 401.66],
  [32.67, 403.25, 402.90, 402.55, 402.20],
  [32.70, 403.05, 402.68, 402.32, 401.95],
  [32.73, 403.91, 403.40, 402.88, 402.50],
  [32.75, 403.59, 403.15, 402.70], [32.79, 403.04, 402.85],
  [32.83, 403.83, 403.39, 402.95, 402.60], [32.86, 403.20],
  [32.89, 402.45, 402.70], [32.92, 403.59, 402.75, 403.00], [32.95, 402.55],
  [32.98, 402.55, 402.20, 401.98], [33.01, 402.37],
  [33.13, 403.44], [33.17, 403.24], [33.19, 401.86, 402.00], [33.23, 402.70, 402.27, 401.34],
  [33.50, 402.90, 403.02], [33.56, 402.55, 401.88], [33.58, 403.10, 402.80], [33.60, 402.06, 401.70],
  [34.26, 402.80], [34.29, 403.04, 402.55], [34.30, 402.65], [34.31, 402.90],
  [34.32, 403.44, 402.77], [34.33, 402.35], [34.35, 402.45], [34.36, 402.15],
  [34.37, 402.00], [34.38, 403.83, 402.60], [34.40, 402.85], [34.41, 403.14],
  [34.43, 402.25], [34.44, 402.50], [34.45, 401.81, 401.56], [34.47, 402.10],
  [34.48, 402.94], [34.50, 403.05], [34.51, 402.75],
  [34.69, 405.07], [34.70, 403.20], [34.72, 403.45], [34.74, 404.35, 403.98],
  [34.78, 403.61], [34.80, 403.30], [34.83, 402.95], [34.84, 403.19], [34.86, 404.30],
  [34.87, 403.98], [34.88, 402.70], [34.90, 403.58, 403.34], [34.92, 402.50],
  [34.93, 402.96], [34.95, 402.33, 402.06], [34.96, 403.10], [34.98, 402.83, 402.25],
  [35.01, 402.60], [35.04, 403.51],
  [43.25, 400.41, 399.70, 399.20, 398.70, 398.20],
  [43.27, 400.15, 399.45, 398.95, 398.45, 397.95],
  [43.30, 399.90, 399.30, 398.80, 398.30, 397.75, 397.27],
  [43.33, 399.96, 399.60, 399.10, 398.60, 398.05, 397.55],
  [43.36, 399.75, 399.35, 398.90, 398.40, 397.90],
  [43.38, 399.96, 399.50, 399.05, 398.55, 398.10, 397.65],
  [43.41, 400.03, 399.25, 398.78, 398.32, 397.85],
  [43.44, 399.60, 399.15, 398.65, 398.20, 397.72],
  [43.47, 399.80, 399.35, 398.88, 398.40, 397.95],
  [43.49, 400.03, 399.05, 398.60, 398.15],
  [43.52, 399.45, 398.95, 398.50, 397.98, 397.60],
  [43.55, 399.20, 398.70, 398.25, 397.80],
  [43.58, 399.50, 398.85, 398.40, 397.92, 397.45],
  [43.61, 399.10, 398.62, 398.15, 397.70, 397.25],
  [43.64, 399.55, 398.95, 398.45, 398.00, 397.55],
  [43.67, 399.35, 398.80, 398.30, 397.85, 396.88],
  [43.70, 399.88, 399.15, 398.65, 398.18, 397.70, 397.25],
  [43.73, 399.45, 398.95, 398.50, 398.02, 396.75],
  [43.76, 399.65, 399.10, 398.60, 398.15, 397.65],
  [43.79, 399.39, 398.85, 398.38, 397.90, 397.40],
  [43.82, 399.70, 399.20, 398.70, 398.22, 397.75],
  [43.85, 399.50, 399.00, 398.52, 398.05, 397.55, 397.12],
  [43.88, 399.35, 398.82, 398.35, 397.88],
  [43.91, 399.82, 399.15, 398.65, 398.18, 397.70, 397.30],
  [43.94, 399.55, 399.02, 398.50, 398.00],
  [43.97, 399.30, 398.80, 398.30, 397.85, 397.40],
  [44.00, 399.74, 399.10, 398.60, 398.12, 397.65],
  [44.03, 399.45, 398.90, 398.42, 397.95],
  [44.06, 399.25, 398.70, 398.22, 397.75],
  [44.09, 399.50, 399.00, 398.50, 398.00],
  [44.12, 399.54, 398.85, 398.35],
  [44.15, 399.30, 398.65, 398.15],
  [44.19, 399.10, 398.50],
  [44.22, 399.40, 398.80, 398.25, 397.80],
  [44.25, 399.20, 398.60, 398.10, 397.55],
  [44.27, 400.35, 399.50, 399.00, 398.45, 397.95],
  [44.30, 399.30, 398.85, 398.35, 397.85, 397.40],
  [44.33, 399.15, 398.70, 398.25, 397.75],
  [44.36, 399.45, 399.00, 398.58, 398.12, 397.65, 397.20],
  [44.39, 399.25, 398.85, 398.42, 398.00, 397.55],
  [44.42, 399.10, 398.72, 398.30, 397.88, 397.42, 396.97],
  [44.45, 399.30, 398.92, 398.55, 398.15, 397.75, 397.30],
  [44.48, 399.71, 399.15, 398.78, 398.40, 398.02, 397.62, 397.20],
  [44.51, 399.40, 399.00, 398.62, 398.25, 397.88, 397.48],
  [44.54, 399.20, 398.85, 398.48, 398.10, 397.72, 397.35, 396.92],
  [44.57, 399.05, 398.70, 398.32, 397.95, 397.58, 397.20],
  [44.60, 399.00, 398.88, 398.55, 398.18, 397.82, 397.45],
  [44.63, 398.95, 398.72, 398.40, 398.05, 397.70, 397.32],
  [44.66, 399.10, 398.85, 398.58, 398.25, 397.92, 397.58, 397.20],
  [44.69, 398.95, 398.70, 398.42, 398.12, 397.80, 397.48],
  [44.72, 399.05, 398.80, 398.55, 398.28, 397.98, 397.65, 397.30],
  [44.75, 398.92, 398.68, 398.42, 398.15, 397.85, 397.55],
  [44.78, 399.02, 398.78, 398.55, 398.30, 398.02, 397.72, 397.40],
  [44.81, 398.90, 398.65, 398.40, 398.15, 397.88, 397.60, 397.25],
  [44.84, 399.02, 398.80, 398.55, 398.30, 398.05, 397.75, 396.97],
  [44.87, 398.95, 398.70, 398.45, 398.20, 397.92, 397.62],
  [44.90, 399.00, 398.78, 398.55, 398.30, 398.05, 397.80, 397.50],
  [44.93, 398.90, 398.65, 398.40, 398.15, 397.90],
  [44.95, 399.00, 398.75, 398.50, 398.25]
];

// extra soundings (c)
const oco2CFill = [
  [31.01, 402.15, 401.70, 401.30, 400.92, 400.35], [31.04, 401.98, 401.52, 401.13, 400.78, 400.45],
  [31.07, 402.12, 401.80, 401.42, 401.05, 400.65, 400.30], [31.10, 402.28, 401.62, 401.25, 400.88, 400.52, 400.18],
  [31.13, 401.88, 401.50, 401.10, 400.72, 400.38], [31.16, 402.05, 401.72, 401.35, 400.98, 400.60, 400.25],
  [31.19, 402.15, 401.58, 401.20, 400.83, 400.45], [31.22, 401.82, 401.45, 401.05, 400.68, 400.32],
  [31.25, 401.98, 401.58, 401.18, 400.80, 400.42, 400.10], [31.28, 402.18, 401.75, 401.36, 400.98, 400.60, 400.22],
  [31.31, 401.90, 401.52, 401.12, 400.74, 400.36], [31.34, 402.05, 401.65, 401.26, 400.88, 400.50, 400.12],
  [31.37, 401.80, 401.40, 401.02, 400.66, 400.28], [31.40, 401.98, 401.58, 401.20, 400.84, 400.45],
  [31.43, 401.86, 401.48, 401.08, 400.70, 400.33], [31.46, 402.10, 401.70, 401.31, 400.94, 400.56, 400.20],
  [31.49, 401.98, 401.60, 401.23, 400.86, 400.48, 400.12], [31.52, 401.82, 401.42, 401.03, 400.66, 400.30],
  [31.55, 401.75, 401.35, 400.97, 400.61, 400.24], [31.58, 402.02, 401.55, 401.16, 400.79, 400.41],
  [31.61, 401.68, 401.29, 400.91, 400.54, 400.17], [31.64, 401.85, 401.46, 401.09, 400.72, 400.36],
  [31.66, 401.62, 401.24, 400.87, 400.49, 400.14], [31.69, 401.78, 401.40, 401.03, 400.66, 400.30],
  [31.72, 401.55, 401.18, 400.81, 400.45, 400.10], [31.75, 401.90, 401.50, 401.12, 400.74, 400.38],
  [31.78, 401.66, 401.29, 400.92, 400.57, 400.22], [31.81, 401.80, 401.43, 401.06, 400.69, 400.33],
  [31.84, 401.58, 401.22, 400.86, 400.52, 400.18], [31.87, 401.88, 401.50, 401.13, 400.77, 400.42],
  [31.90, 401.70, 401.33, 400.98, 400.64, 400.30], [31.93, 401.85, 401.47, 401.10, 400.75, 400.40, 400.05],
  [31.96, 401.68, 401.36, 401.00, 400.65, 400.32], [31.99, 401.95, 401.58, 401.22, 400.88, 400.54, 400.20],
  [32.02, 401.85, 401.48, 401.12, 400.78, 400.42], [32.05, 402.12, 401.74, 401.38, 401.03, 400.68, 400.35],
  [32.08, 401.80, 401.45, 401.10, 400.75, 400.38], [32.11, 402.02, 401.66, 401.30, 400.96, 400.60, 400.25],
  [32.14, 402.26, 401.88, 401.52, 401.18, 400.83, 400.48], [32.17, 402.12, 401.75, 401.40, 401.05, 400.70, 400.35],
  [32.20, 402.35, 401.98, 401.62, 401.28, 400.92, 400.55], [32.23, 402.20, 401.84, 401.48, 401.12, 400.78],
  [32.26, 402.42, 402.05, 401.70, 401.35, 401.00, 400.62], [32.29, 402.60, 402.25, 401.88, 401.54, 401.20],
  [32.32, 402.48, 402.12, 401.78, 401.42, 401.08], [32.35, 402.82, 402.35, 401.98, 401.62, 401.28],
  [32.38, 402.62, 402.22, 401.86, 401.52], [32.41, 402.85, 402.45, 402.08, 401.72],
  [32.44, 403.08, 402.62, 402.28, 401.92, 401.58], [32.48, 402.78, 402.42, 402.08, 401.72],
  [32.53, 403.28, 402.68, 402.32, 401.95], [32.56, 403.00, 402.62, 402.25, 401.85],
  [32.60, 403.18, 402.72, 402.40, 402.02], [32.63, 402.95, 402.55, 402.18, 401.78],
  [32.66, 403.08, 402.72, 402.38, 401.88],
  [43.26, 399.95, 399.45, 398.92, 398.45, 397.98, 397.50], [43.29, 400.10, 399.62, 399.08, 398.55, 398.05, 397.55],
  [43.32, 399.75, 399.25, 398.72, 398.25, 397.78], [43.35, 399.88, 399.15, 398.65, 398.15, 397.68, 397.38],
  [43.37, 399.60, 399.15, 398.68, 398.20, 397.48], [43.40, 399.72, 399.00, 398.55, 398.08, 397.62],
  [43.43, 399.85, 399.40, 398.90, 398.45, 397.98], [43.46, 399.55, 399.05, 398.55, 398.08, 397.60],
  [43.48, 399.20, 398.72, 398.28, 397.80], [43.51, 399.65, 399.18, 398.70, 398.25, 397.82],
  [43.54, 399.40, 398.88, 398.45, 397.95, 397.45], [43.57, 399.05, 398.55, 398.10, 397.62],
  [43.60, 399.35, 398.82, 398.30, 397.85, 397.40], [43.63, 399.20, 398.72, 398.25, 397.82],
  [43.66, 399.68, 399.08, 398.58, 398.10, 397.65], [43.69, 399.50, 398.95, 398.45, 397.95, 397.45],
  [43.72, 399.25, 398.75, 398.28, 397.80, 397.35], [43.75, 399.42, 398.88, 398.38, 397.90, 397.42],
  [43.78, 399.55, 399.00, 398.50, 398.02, 397.55, 397.05], [43.81, 399.25, 398.75, 398.25, 397.60],
  [43.84, 399.30, 398.80, 398.32, 397.85, 397.35], [43.87, 399.62, 399.12, 398.60, 398.12, 397.65],
  [43.90, 399.45, 398.95, 398.45, 397.95, 397.50], [43.93, 399.68, 399.22, 398.75, 398.25, 397.80],
  [43.96, 399.48, 398.95, 398.45, 397.98, 397.55], [43.99, 399.25, 398.80, 398.35, 397.88],
  [44.02, 399.55, 399.02, 398.50, 398.05, 397.55], [44.05, 399.40, 398.85, 398.35, 397.90],
  [44.08, 399.20, 398.72, 398.25], [44.11, 399.08, 398.58, 398.10], [44.14, 399.45, 398.95, 398.45],
  [44.17, 399.20, 398.75, 398.30, 397.90], [44.20, 399.30, 398.95, 398.40, 397.95],
  [44.23, 399.55, 399.05, 398.55, 398.05, 397.65], [44.26, 399.35, 398.85, 398.30, 397.80, 397.30],
  [44.28, 399.15, 398.65, 398.15, 397.65], [44.31, 399.55, 399.05, 398.60, 398.12, 397.60],
  [44.34, 399.35, 398.92, 398.48, 398.00, 397.50], [44.37, 399.18, 398.78, 398.35, 397.90, 397.42],
  [44.40, 399.38, 398.95, 398.55, 398.15, 397.75, 397.32], [44.43, 399.20, 398.82, 398.45, 398.05, 397.62, 397.18],
  [44.46, 399.45, 399.05, 398.68, 398.30, 397.92, 397.52], [44.49, 399.28, 398.90, 398.52, 398.14, 397.75, 397.38],
  [44.52, 399.12, 398.75, 398.38, 398.00, 397.62, 397.25], [44.55, 399.02, 398.62, 398.25, 397.88, 397.50, 397.10],
  [44.58, 399.10, 398.80, 398.45, 398.08, 397.70, 397.35], [44.61, 398.98, 398.65, 398.30, 397.95, 397.60, 397.22],
  [44.64, 399.05, 398.82, 398.50, 398.15, 397.82, 397.48], [44.67, 398.98, 398.72, 398.45, 398.12, 397.78, 397.42],
  [44.70, 399.08, 398.82, 398.56, 398.28, 397.95, 397.62, 397.30], [44.73, 398.95, 398.68, 398.40, 398.12, 397.82, 397.50],
  [44.76, 399.05, 398.80, 398.55, 398.28, 398.00, 397.70, 397.38], [44.79, 398.92, 398.66, 398.42, 398.15, 397.88, 397.58],
  [44.82, 399.05, 398.78, 398.52, 398.28, 398.02, 397.74, 397.45], [44.85, 398.92, 398.68, 398.42, 398.18, 397.90, 397.62],
  [44.88, 399.02, 398.82, 398.58, 398.32, 398.08, 397.80, 397.52], [44.91, 398.92, 398.68, 398.44, 398.20, 397.95, 397.70],
  [44.94, 398.98, 398.72, 398.48, 398.22, 398.00]
];

// WRF-VPRM model values sampled at the same tracks: [lat, xco2]
const wrfA = [
  [27.18, 402.88], [27.29, 402.87], [27.64, 402.98], [27.76, 403.01], [27.87, 403.01],
  [27.99, 403.01], [28.10, 403.07], [28.21, 403.18], [28.22, 403.24], [28.33, 403.27],
  [28.44, 403.29], [28.45, 403.31], [28.56, 403.37], [28.67, 403.49], [28.68, 403.52],
  [28.78, 403.54], [28.89, 403.54], [28.91, 403.49], [29.00, 403.44], [29.03, 403.37],
  [29.12, 403.37], [29.14, 403.34], [29.23, 403.37], [29.24, 403.34], [29.35, 403.31],
  [29.47, 403.27], [29.58, 403.40], [29.70, 403.44], [29.81, 403.34], [29.93, 403.31],
  [30.04, 403.36], [30.16, 403.43], [30.16, 403.46], [30.28, 403.49], [30.38, 403.26],
  [30.40, 403.20]
];
const wrfB = [
  [28.42, 406.11], [28.52, 406.11], [28.63, 406.11], [28.74, 406.11], [28.85, 406.11],
  [28.95, 406.12], [29.07, 406.14], [29.17, 406.12], [29.28, 406.11], [29.39, 406.09],
  [29.39, 406.31], [29.50, 406.04], [29.61, 405.99], [29.71, 406.20], [29.71, 406.31],
  [29.82, 406.27], [29.82, 406.31], [29.93, 406.27], [30.04, 406.40], [30.14, 406.42],
  [30.14, 406.61], [30.26, 406.59],
  [33.39, 406.85], [33.39, 406.81], [33.50, 406.76], [33.61, 406.60], [33.71, 406.40],
  [33.82, 406.18], [33.82, 406.07], [33.93, 405.95], [34.04, 405.80], [34.36, 405.25],
  [34.47, 405.17], [34.69, 404.95], [34.80, 404.86], [35.02, 404.42], [35.78, 404.13],
  [35.89, 404.11], [35.89, 404.05], [35.99, 403.99], [36.10, 403.83], [36.21, 403.79],
  [36.32, 403.99], [36.32, 403.63], [36.43, 403.60], [36.53, 403.56], [36.64, 403.51],
  [36.64, 403.48], [36.75, 403.44], [36.86, 403.35], [36.97, 403.29]
];
const wrfC = [
  [31.11, 402.73], [31.22, 402.75], [31.33, 402.80], [31.44, 402.84], [31.54, 402.84],
  [31.65, 402.84], [31.76, 402.84], [31.86, 402.81], [31.96, 402.81], [32.07, 402.84],
  [32.18, 402.88], [32.29, 402.94], [32.40, 402.90], [32.51, 402.96], [32.62, 403.07],
  [32.72, 403.14], [32.83, 403.18], [32.94, 403.24], [33.05, 403.33], [33.16, 403.48],
  [33.26, 403.62], [33.47, 403.79], [33.58, 403.79],
  [34.34, 403.44], [34.34, 403.39], [34.45, 403.37], [34.55, 403.47], [34.66, 403.64],
  [34.76, 403.73], [34.87, 403.75], [34.87, 403.71], [34.98, 403.64],
  [43.37, 398.21], [43.47, 398.09], [43.58, 397.91], [43.71, 397.76], [43.81, 397.66],
  [43.91, 397.66], [44.01, 397.61], [44.12, 397.56], [44.23, 397.49], [44.33, 397.39],
  [44.43, 397.45], [44.64, 397.71], [44.65, 397.81], [44.75, 397.88], [44.85, 398.01]
];

// segment boundaries (black vertical lines) and their vertical span
const boundsA = [18.01, 21.09, 27.14, 30.48];
const boundsB = [28.41, 30.26, 33.31, 36.99];
const boundsC = [31.01, 35.04, 43.27, 44.94];
const spanA = [400.07, 405.18];
const spanB = [402.38, 407.48];
const spanC = [396.68, 405.10];

// axis extents and tick labels
const xRangeA = [17.386, 31.10];
const xRangeB = [27.96, 37.43];
const xRangeC = [30.31, 45.64];
const yRangeA = [399.83, 405.42];
const yRangeB = [402.13, 407.73];
const yRangeC = [396.28, 405.49];
const xTicksA = [18, 20, 22, 24, 26, 28, 30];
const xTicksB = [28, 30, 32, 34, 36];
const xTicksC = [32, 34, 36, 38, 40, 42, 44];
const yTicksA = [400, 401, 402, 403, 404, 405];
const yTicksB = [403, 404, 405, 406, 407];
const yTicksC = [398, 400, 402, 404];

// annotation texts
const titles = ["(a) 02-16-2016", "(b) 05-28-2016", "(c) 08-05-2016"];
const statsLeft = [
  ["Std = 0.637ppmv", "Mean = 402.203ppmv"],
  ["Std = 0.602ppmv", "Mean = 405.490ppmv"],
  ["Std = 0.878ppmv", "Mean = 401.594ppmv"]
];
const statsRight = [
  ["Std = 0.430ppmv", "Mean = 403.586ppmv"],
  ["Std = 0.791ppmv", "Mean = 404.242ppmv"],
  ["Std = 0.652ppmv", "Mean = 398.329ppmv"]
];
const deltas = ["ΔXCO₂ : -1.384 ppmv", "ΔXCO₂ : 1.248 ppmv", "ΔXCO₂ : 3.265 ppmv"];
const corrs = ["R : 0.563", "R : 0.826", "R : 0.956"];

// page layout (pixels)
const GRID_LEFT = 67;
const GRID_WIDTH = 836;
const FONT = "DejaVu Sans";
const BLUE = "#1f77b4";
const GREEN = "#008000";

const panels = [
  { top: 15, height: 312, xRange: xRangeA, yRange: yRangeA, xTicks: xTicksA, yTicks: yTicksA, xStep: 2, yStep: 1,
    oco: oco2A.concat(oco2AFill), wrf: wrfA, bounds: boundsA, span: spanA,
    titleY: 40, statY: [279, 307], rightX: 693, deltaPos: [487, 222], rPos: [484, 250], legendPos: [419, 271] },
  { top: 406, height: 311, xRange: xRangeB, yRange: yRangeB, xTicks: xTicksB, yTicks: yTicksB, xStep: 2, yStep: 1,
    oco: oco2B.concat(oco2BFill), wrf: wrfB, bounds: boundsB, span: spanB,
    titleY: 431, statY: [670, 698], rightX: 585, deltaPos: [415, 613], rPos: [408, 642], legendPos: [343, 662] },
  { top: 797, height: 311, xRange: xRangeC, yRange: yRangeC, xTicks: xTicksC, yTicks: yTicksC, xStep: 2, yStep: 2,
    oco: oco2C.concat(oco2CFill), wrf: wrfC, bounds: boundsC, span: spanC,
    titleY: 815, statY: [1061, 1090], rightX: 693, deltaPos: [499, 1003], rPos: [498, 1033], legendPos: [427, 1053] }
];

// expand [lat, v1, v2, ...] columns into [lat, v] points
function toPoints(cols) {
  const pts = [];
  cols.forEach(function (col) {
    for (let i = 1; i < col.length; i++) {
      pts.push([col[0], col[i]]);
    }
  });
  return pts;
}

function tickLabel(ticks) {
  return function (v) {
    return ticks.indexOf(Math.round(v * 1000) / 1000) >= 0 ? String(Math.round(v)) : "";
  };
}

const grids = [], xAxes = [], yAxes = [], series = [], legends = [], graphics = [];

panels.forEach(function (p, i) {
  grids.push({
    left: GRID_LEFT, top: p.top, width: GRID_WIDTH, height: p.height,
    outerBoundsMode: "none", containLabel: false,
    show: true, borderColor: "#222", borderWidth: 1, backgroundColor: "transparent"
  });

  xAxes.push({
    type: "value", gridIndex: i, min: p.xRange[0], max: p.xRange[1],
    minInterval: p.xStep, maxInterval: p.xStep, splitNumber: 7,
    axisLine: { show: false },
    axisTick: { show: true, length: 4, customValues: p.xTicks, lineStyle: { color: "#000" } },
    axisLabel: { color: "#000", fontSize: 14, fontFamily: FONT, margin: 7,
      customValues: p.xTicks, formatter: tickLabel(p.xTicks) },
    splitLine: { show: true, lineStyle: { color: "#c4c4c4", width: 1 } },
    name: "Latitude (°N)", nameLocation: "middle", nameGap: 18,
    nameTextStyle: { color: "#000", fontSize: 19, fontFamily: FONT }
  });

  yAxes.push({
    type: "value", gridIndex: i, min: p.yRange[0], max: p.yRange[1],
    minInterval: p.yStep, maxInterval: p.yStep, splitNumber: 5,
    axisLine: { show: false },
    axisTick: { show: true, length: 4, customValues: p.yTicks, lineStyle: { color: "#000" } },
    axisLabel: { color: "#000", fontSize: 14, fontFamily: FONT, margin: 8,
      customValues: p.yTicks, formatter: tickLabel(p.yTicks) },
    splitLine: { show: true, lineStyle: { color: "#c4c4c4", width: 1 } },
    name: "XCO₂ (ppmv)", nameLocation: "middle", nameGap: 33,
    nameTextStyle: { color: "#000", fontSize: 19, fontFamily: FONT }
  });

  series.push({
    name: "OCO-2", type: "scatter", xAxisIndex: i, yAxisIndex: i,
    data: toPoints(p.oco), symbol: "circle", symbolSize: 5,
    itemStyle: { color: BLUE, opacity: 1 }, z: 2, silent: true
  });

  series.push({
    name: "WRF-VPRM", type: "scatter", xAxisIndex: i, yAxisIndex: i,
    data: p.wrf, symbol: "triangle", symbolSize: [7, 6],
    itemStyle: { color: "#ff0000", opacity: 1 }, z: 3, silent: true,
    markLine: {
      silent: true, symbol: ["none", "none"], animation: false,
      label: { show: false },
      lineStyle: { color: "#000", width: 1.5, type: "solid" },
      data: p.bounds.map(function (x) {
        return [{ coord: [x, p.span[0]] }, { coord: [x, p.span[1]] }];
      })
    }
  });

  legends.push({
    left: p.legendPos[0], top: p.legendPos[1], orient: "vertical",
    data: [{ name: "OCO-2", icon: "circle" }, { name: "WRF-VPRM", icon: "triangle" }],
    itemWidth: 6, itemHeight: 6, itemGap: 7,
    padding: [7, 7, 4, 17],
    textStyle: { color: "#000", fontSize: 14.5, fontFamily: FONT, lineHeight: 15, padding: [0, 0, 0, 20] },
    backgroundColor: "rgba(255,255,255,0.8)", borderColor: "#cccccc", borderWidth: 1, borderRadius: 3,
    selectedMode: false, z: 50
  });

  graphics.push({
    type: "text", x: 113.5, y: p.titleY, z: 100,
    style: { text: titles[i], fill: GREEN, fontSize: 19, fontWeight: "bold", fontFamily: FONT,
      align: "left", verticalAlign: "middle" }
  });
  [statsLeft[i], statsRight[i]].forEach(function (pair, k) {
    pair.forEach(function (txt, j) {
      graphics.push({
        type: "text", x: k === 0 ? 114 : p.rightX, y: p.statY[j], z: 100,
        style: { text: txt, fill: "#000", fontSize: 16, fontWeight: "bold", fontFamily: FONT,
          align: "left", verticalAlign: "middle" }
      });
    });
  });
  graphics.push({
    type: "text", x: p.deltaPos[0], y: p.deltaPos[1], z: 100,
    style: { text: deltas[i], fill: GREEN, fontSize: 16, fontFamily: FONT, align: "center", verticalAlign: "middle" }
  });
  graphics.push({
    type: "text", x: p.rPos[0], y: p.rPos[1], z: 100,
    style: { text: corrs[i], fill: GREEN, fontSize: 16, fontFamily: FONT, align: "center", verticalAlign: "middle" }
  });
});

const chart = echarts.init(document.getElementById("chart"), null, { renderer: "canvas" });
chart.setOption({
  animation: false,
  backgroundColor: "#ffffff",
  textStyle: { fontFamily: FONT },
  grid: grids,
  xAxis: xAxes,
  yAxis: yAxes,
  legend: legends,
  series: series,
  graphic: graphics
});
</script>
</body>
</html>
